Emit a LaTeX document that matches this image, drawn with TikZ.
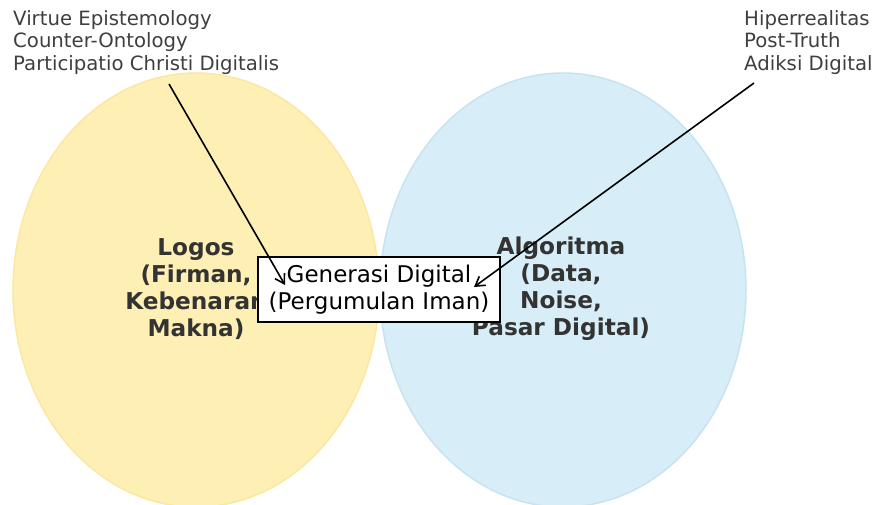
\documentclass[tikz,border=0pt]{standalone}
\usepackage{fontspec}
\setmainfont{DejaVu Sans}
\usetikzlibrary{arrows.meta}
\definecolor{yfill}{HTML}{FEF0B4}
\definecolor{ydraw}{HTML}{FBE7A1}
\definecolor{bfill}{HTML}{D7EDF7}
\definecolor{bdraw}{HTML}{C8E3F0}
\definecolor{lbl}{HTML}{333333}
\definecolor{side}{HTML}{3F3F3F}
\tikzset{
  setlabel/.style={text=lbl, align=center, font=\fontsize{23.2}{27}\selectfont\bfseries, inner sep=0pt},
  sidelabel/.style={text=side, align=left, anchor=north west, font=\fontsize{19.7}{22.7}\selectfont, inner sep=0pt},
  centerbox/.style={draw=black, line width=1.6pt, fill=white, align=center, minimum width=242pt, minimum height=65pt, inner sep=0pt, font=\fontsize{23}{27}\selectfont},
  pointer/.style={draw=black, line width=1.6pt, -{Straight Barb[length=9pt,width=11pt,line width=1.6pt]}}
}
\begin{document}
\begin{tikzpicture}[x=1pt,y=-1pt]
\useasboundingbox (0,0) rectangle (874,505);
% sets
\path[fill=yfill, draw=ydraw, line width=1.5pt] (196,290) ellipse [x radius=183, y radius=217];
\path[fill=bfill, draw=bdraw, line width=1.5pt] (563,290) ellipse [x radius=183, y radius=217];
% set labels
\node[setlabel] (logos) at (196,289) {Logos\\(Firman,\\Kebenaran\\Makna)};
\node[setlabel] (algo) at (561,289) {Algoritma\\(Data,\\Noise,\\Pasar Digital)};
% center box
\node[centerbox] (gen) at (379,289.5) {Generasi Digital\\(Pergumulan Iman)};
% side labels
\node[sidelabel] (left) at (13,10) {Virtue Epistemology\\Counter-Ontology\\Participatio Christi Digitalis};
\node[sidelabel] (right) at (744,10) {Hiperrealitas\\Post-Truth\\Adiksi Digital};
% arrows
\coordinate (ltail) at (169,84);
\coordinate (ltip) at (285,285);
\coordinate (rtail) at (754,83);
\coordinate (rtip) at (474,287);
\draw[pointer] (ltail) -- (ltip);
\draw[pointer] (rtail) -- (rtip);
\end{tikzpicture}
\end{document}
